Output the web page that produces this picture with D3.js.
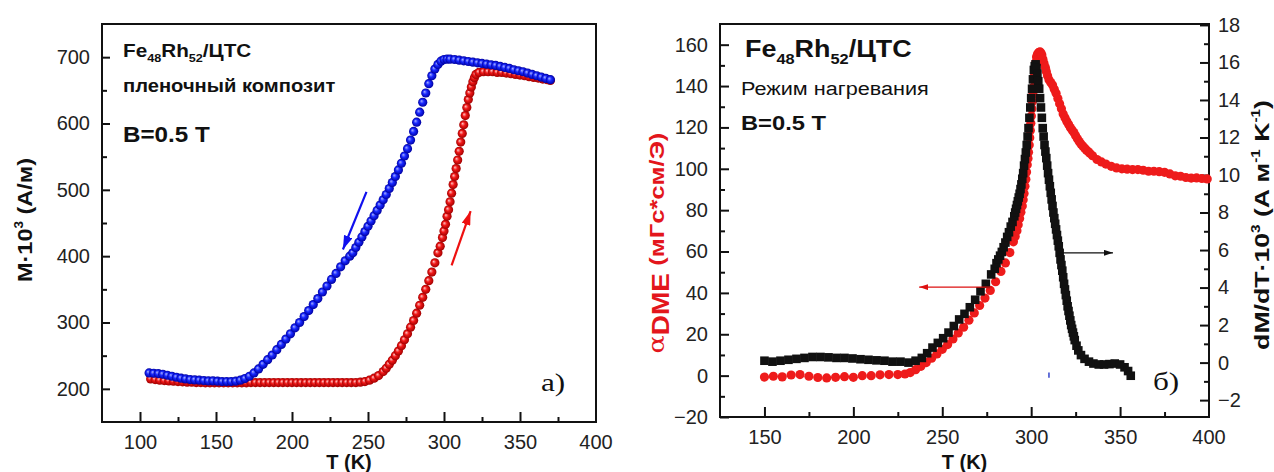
<!DOCTYPE html>
<html>
<head>
<meta charset="utf-8">
<script src="https://cdn.jsdelivr.net/npm/d3@7"></script>
<style>
  body { margin: 0; background: #fff; }
  svg text { font-family: "Liberation Sans", Arial, sans-serif; fill: #111; }
</style>
</head>
<body>
<div id="chart"></div>
<script>
// ---- панель а): M(T), нагрев (красный) и охлаждение (синий)
var heatT = [107,110,113,116,119,122,125,128,131,134,137,140,143,146,149,152,155,158,161,164,167,170,173,176,179,182,185,188,191,194,197,200,203,206,209,212,215,218,221,224,227,230,233,236,239,242,245,248,251,254,257,260,262,264,266,268,270,272,274,276,278,280,282,284,286,288,290,292,294,296,297.5,299,300,301,302,303,304,305,306,307,308,309,310,311,312,313,314,315,316,317,318,319,320,321,323,326,329,332,335,338,341,344,347,350,353,356,359,362,365,368,370];
var heatM = [215,214,213,212.5,212,211.5,211,210.5,210,210,209.5,209.5,209,209,209,209,209,209,209,209,209,209,209.5,209.5,209.5,209.5,209.5,209.5,209.5,209.5,209.5,209.5,209.5,209.5,209.5,209.5,209.5,209.5,209.5,209.5,209.5,209.5,209.5,209.5,209.5,209.5,210,211,213,216,220,226,231,237,243,250,257,265,274,283,293,303,314,326,338,350,363,376,390,405,415,428,438,448,460,470,482,495,508,520,532,545,558,572,585,598,612,624,636,646,655,663,669,674,677,678,678,678,677,677,676,675,674,673,672,670.5,669.5,668.5,667,666,665];
var coolT = [106,109,112,115,118,121,124,127,130,133,136,139,142,145,148,151,154,157,160,163,166,169,172,175,178,181,184,187,190,193,196,199,202,205,208,211,214,217,220,223,226,229,232,235,238,240,242,244,246,248,250,252,254,256,258,260,262,264,266,268,270,272,274,276,278,280,282,284,286,288,290,292,294,296,298,300,302,304,307,310,313,316,319,322,325,328,331,334,337,340,343,346,349,352,355,358,361,364,367,370];
var coolM = [224,223.5,223,222,220.5,219,217.5,216,215,214,213.5,213,212.5,212,212,211.5,211,211,211,211.5,213,215.5,219,224,230,237,244,251,259,267,275,283,292,300,309,318,327,336,346,355,365,374,384,393,400,405,413,421,429,437,445,453,461,469,477,485,493,502,511,520,530,540,551,562,575,588,602,617,632,646,660,672,682,689,694,696.5,697,697,696.5,695.5,694.5,693.5,692.5,691.5,690.5,689.5,688.5,687.5,686,684.5,683,681,679.5,678,676,674,672,670,668,666];
var xTicksA = [100,150,200,250,300,350,400];
var yTicksA = [200,300,400,500,600,700];

// ---- панель б): α_DME (красный, левая ось) и dM/dT (чёрный, правая ось)
var dmeT = [150,155,160,165,170,175,180,185,190,195,200,205,210,215,220,225,229,232,235,238,241,244,247,250,253,256,259,262,265,268,271,274,277,280,283,285.5,288,290,291,292,292.7,293.5,294.2,295,295.5,296,296.5,297,297.4,297.8,298.2,298.5,298.9,299.2,299.5,299.8,300.1,300.4,300.7,301,301.3,301.6,301.9,302.2,302.6,303,303.5,304,304.5,305,305.5,306,306.6,307.2,308,308.5,309.2,310,311,312,313,314,315,316,317,318,319,320,321,322,323,324,325,326,327,328,329,330,331,332,333,334.5,337,339.5,342,345,348,351,354,357,360,363,366,369,372,375,378,381,384,387,390,393,396,399];
var dmeA = [-0.7,-0.3,-0.6,0.3,0.5,-0.3,-0.9,-1.1,-0.8,-0.5,-0.8,0,0,0.4,0.5,0.5,0.8,1.5,2.9,4.5,6.3,8.4,10.5,12.7,15,17.7,20.6,23.4,26.8,30.3,33.9,37.5,41.2,45.4,50.4,54.5,59.5,64.7,67.3,70,73,76,79,82,85,88,91.5,95,98.5,102,105,108,111.5,115,118.5,122,125.5,129,132.5,136,139.5,143,146,149,151.5,154,155.3,156,156.3,156.5,156,155,153,151,149,147,145,143,141.7,140.5,138.5,136.5,134,131.5,129,126.5,124.7,123,121.5,120,118.7,117.5,116,114.5,113.2,112,111,110,109.1,108.3,107.5,106.3,104.5,103.3,102.3,101.2,100.4,100,99.8,99.6,99.6,99.3,98.8,98.8,98.6,98.3,97.5,96.6,96.4,95.8,95.5,95.6,95.3,95.1];
var derT = [150,154.5,159,163.5,168,172.5,177,181.5,186,190.5,195,199.5,204,208.5,213,217.5,222,226.5,231,235,238.5,241.5,244.5,247.5,250.5,253.5,256.5,259.5,262.5,265.5,268.5,271.5,274.5,277.5,279.5,280.5,281.5,282.5,283.5,284.5,285.5,286.5,287.5,288.5,289.5,290.5,291,291.5,292,292.5,293,293.5,294,294.5,295,295.5,296,296.5,297,297.5,298,298.5,299,299.5,300,300.5,301,301.5,302,302.5,303,303.5,304,304.5,305,305.5,306,306.5,307,307.5,308,308.5,309,309.5,310,310.5,311,311.5,312,312.5,313,313.5,314,314.5,315,315.5,316,316.5,317,317.5,318,318.5,319,319.5,320,320.5,321,321.5,322,322.5,323,323.5,324,324.5,325.5,326.5,328,330,332.5,335,338,341,344,347,350,352.5,354.5,356];
var derV = [0.1,0.05,0.1,0.15,0.2,0.25,0.3,0.3,0.28,0.25,0.25,0.22,0.18,0.15,0.12,0.1,0.05,0.05,0,0.1,0.25,0.5,0.8,1.05,1.3,1.6,1.95,2.3,2.6,2.95,3.35,3.8,4.2,4.7,5.0,5.3,5.5,5.7,5.9,6.15,6.4,6.7,6.95,7.25,7.5,7.8,8.0,8.2,8.4,8.6,8.8,9.0,9.25,9.5,9.8,10.1,10.5,10.85,11.2,11.6,12.05,12.5,13.05,13.6,14.1,14.6,15.1,15.6,15.8,15.9,15.7,15.4,15.0,14.6,14.1,13.6,13.05,12.5,12.05,11.6,11.25,10.9,10.5,10.1,9.75,9.4,9.05,8.7,8.35,8.0,7.7,7.4,7.1,6.8,6.5,6.2,5.85,5.5,5.2,4.9,4.55,4.2,3.9,3.6,3.3,3.0,2.75,2.5,2.25,2.0,1.8,1.6,1.4,1.2,0.9,0.65,0.4,0.2,0.05,-0.05,-0.1,-0.1,-0.08,-0.05,-0.1,-0.25,-0.45,-0.7];
var xTicksB = [150,200,250,300,350,400];
var yTicksB = [-20,0,20,40,60,80,100,120,140,160];
var y2TicksB = [-2,0,2,4,6,8,10,12,14,16,18];

var W = 1274, H = 472;
var svg = d3.select("#chart").append("svg").attr("width", W).attr("height", H);
svg.append("rect").attr("width", W).attr("height", H).attr("fill", "#fff");

var defs = svg.append("defs");
function sphere(id, c0, c1, c2) {
  var g = defs.append("radialGradient").attr("id", id)
    .attr("cx", "50%").attr("cy", "50%").attr("r", "50%").attr("fx", "35%").attr("fy", "35%");
  g.append("stop").attr("offset", "0%").attr("stop-color", c0);
  g.append("stop").attr("offset", "45%").attr("stop-color", c1);
  g.append("stop").attr("offset", "100%").attr("stop-color", c2);
}
sphere("gBlue", "#a8b0ff", "#1828ff", "#0000a0");
sphere("gRed", "#ffc8c8", "#f01818", "#a00000");

function arrowHead(id, color, len, wid) {
  defs.append("marker").attr("id", id)
    .attr("markerUnits", "userSpaceOnUse")
    .attr("viewBox", "0 0 " + len + " " + wid)
    .attr("refX", len).attr("refY", wid / 2)
    .attr("markerWidth", len).attr("markerHeight", wid)
    .attr("orient", "auto")
    .append("path").attr("d", "M0,0L" + len + "," + (wid / 2) + "L0," + wid + "Z").attr("fill", color);
}
arrowHead("ahBlue", "#1010ee", 14, 9);
arrowHead("ahRed", "#ee1010", 14, 9);
arrowHead("ahRedThin", "#dd1010", 9, 6);
arrowHead("ahBlack", "#111", 9, 6);

// текст с верхними / нижними индексами
function rich(g, parts, fs) {
  var t = g.append("text").attr("font-size", fs);
  var shift = 0;
  parts.forEach(function(p) {
    var target = p.sup ? -fs * 0.42 : (p.sub ? fs * (p.off || 0.3) : 0);
    var ts = t.append("tspan").attr("dy", target - shift).text(p.t);
    if (p.fs) ts.attr("font-size", p.fs);
    if (p.fill) ts.style("fill", p.fill);
    if (p.weight) ts.attr("font-weight", p.weight);
    if (p.family) ts.style("font-family", p.family);
    shift = target;
  });
  return t;
}

function frame(g, x, y) {
  g.append("rect")
    .attr("x", x.range()[0]).attr("y", y.range()[1])
    .attr("width", x.range()[1] - x.range()[0])
    .attr("height", y.range()[0] - y.range()[1])
    .attr("fill", "none").attr("stroke", "#111").attr("stroke-width", 2);
}

function styleAxis(a) {
  a.select(".domain").remove();
  a.selectAll(".tick line").attr("stroke", "#111").attr("stroke-width", 2);
  a.selectAll(".tick text").attr("font-size", 20).style("fill", "#222");
}

// ======================= панель а =======================
var xA = d3.scaleLinear().domain([75, 400]).range([102, 596]);
var yA = d3.scaleLinear().domain([150, 750]).range([422, 24]);
var gA = svg.append("g");

var axA = gA.append("g").attr("transform", "translate(0," + yA.range()[0] + ")")
  .call(d3.axisBottom(xA).tickValues(xTicksA.slice(0, -1)).tickSize(-10).tickPadding(13).tickFormat(d3.format("d")));
styleAxis(axA);
gA.append("text").attr("x", xA(400)).attr("y", yA.range()[0] + 13).attr("dy", "0.71em")
  .attr("text-anchor", "middle").attr("font-size", 20).style("fill", "#222").text("400");
var axAm = gA.append("g").attr("transform", "translate(0," + yA.range()[0] + ")")
  .call(d3.axisBottom(xA).tickValues([125, 175, 225, 275, 325, 375]).tickSize(-5).tickFormat(""));
styleAxis(axAm);

var ayA = gA.append("g").attr("transform", "translate(" + xA.range()[0] + ",0)")
  .call(d3.axisLeft(yA).tickValues(yTicksA).tickSize(-8).tickPadding(12));
styleAxis(ayA);
var ayAm = gA.append("g").attr("transform", "translate(" + xA.range()[0] + ",0)")
  .call(d3.axisLeft(yA).tickValues([250, 350, 450, 550, 650]).tickSize(-5).tickFormat(""));
styleAxis(ayAm);

frame(gA, xA, yA);

gA.append("g").selectAll("circle").data(heatT).enter().append("circle")
  .attr("cx", function(d) { return xA(d); })
  .attr("cy", function(d, i) { return yA(heatM[i]); })
  .attr("r", 4.6).attr("fill", "url(#gRed)");
gA.append("g").selectAll("circle").data(coolT).enter().append("circle")
  .attr("cx", function(d) { return xA(d); })
  .attr("cy", function(d, i) { return yA(coolM[i]); })
  .attr("r", 4.6).attr("fill", "url(#gBlue)");

// стрелки направления
gA.append("line").attr("x1", xA(249)).attr("y1", yA(497)).attr("x2", xA(233.5)).attr("y2", yA(410))
  .attr("stroke", "#1010ee").attr("stroke-width", 2.2).attr("marker-end", "url(#ahBlue)");
gA.append("line").attr("x1", xA(305)).attr("y1", yA(386)).attr("x2", xA(317.5)).attr("y2", yA(468))
  .attr("stroke", "#ee1010").attr("stroke-width", 2.2).attr("marker-end", "url(#ahRed)");

// подписи
gA.append("text").attr("x", xA(237.5)).attr("y", 469).attr("text-anchor", "middle")
  .attr("font-size", 20).attr("font-weight", "bold").text("T (K)");
rich(gA.append("g").attr("transform", "translate(32,220) rotate(-90) scale(1.12,1)"),
  [{t: "M·10"}, {t: "3", sup: true, fs: 12}, {t: " (A/м)"}], 21)
  .attr("text-anchor", "middle").attr("font-weight", "bold");

rich(gA.append("g").attr("transform", "translate(123,57) scale(1.15,1)"),
  [{t: "Fe"}, {t: "48", sub: true, fs: 11}, {t: "Rh"}, {t: "52", sub: true, fs: 11}, {t: "/ЦТС"}], 18)
  .attr("font-weight", "bold");
gA.append("text").attr("transform", "translate(123,92) scale(1.09,1)").attr("font-size", 18.5)
  .attr("font-weight", "bold").text("пленочный композит");
gA.append("text").attr("transform", "translate(123,142) scale(1.1,1)").attr("font-size", 22)
  .attr("font-weight", "bold").text("B=0.5 T");
gA.append("text").attr("transform", "translate(541,391) scale(1.2,1)").attr("font-size", 26)
  .style("font-family", "'Liberation Serif', 'Times New Roman', serif").text("a)");

// ======================= панель б =======================
var xB = d3.scaleLinear().domain([125, 400]).range([720, 1209]);
var yB = d3.scaleLinear().domain([-20, 170]).range([417, 24]);
var y2B = d3.scaleLinear().domain([-2.9, 18.05]).range([417, 24]);
var gB = svg.append("g");

var axB = gB.append("g").attr("transform", "translate(0," + yB.range()[0] + ")")
  .call(d3.axisBottom(xB).tickValues(xTicksB.slice(0, -1)).tickSize(-10).tickPadding(13).tickFormat(d3.format("d")));
styleAxis(axB);
gB.append("text").attr("x", xB(400)).attr("y", yB.range()[0] + 13).attr("dy", "0.71em")
  .attr("text-anchor", "middle").attr("font-size", 20).style("fill", "#222").text("400");
var axBm = gB.append("g").attr("transform", "translate(0," + yB.range()[0] + ")")
  .call(d3.axisBottom(xB).tickValues([175, 225, 275, 325, 375]).tickSize(-5).tickFormat(""));
styleAxis(axBm);

var ayB = gB.append("g").attr("transform", "translate(" + xB.range()[0] + ",0)")
  .call(d3.axisLeft(yB).tickValues(yTicksB).tickSize(-9).tickPadding(12));
styleAxis(ayB);
var ayBm = gB.append("g").attr("transform", "translate(" + xB.range()[0] + ",0)")
  .call(d3.axisLeft(yB).tickValues(d3.range(-10, 170, 20)).tickSize(-5).tickFormat(""));
styleAxis(ayBm);

var ay2B = gB.append("g").attr("transform", "translate(" + xB.range()[1] + ",0)")
  .call(d3.axisRight(y2B).tickValues(y2TicksB).tickSize(-9).tickPadding(9));
styleAxis(ay2B);
var ay2Bm = gB.append("g").attr("transform", "translate(" + xB.range()[1] + ",0)")
  .call(d3.axisRight(y2B).tickValues(d3.range(-1, 18, 2)).tickSize(-5).tickFormat(""));
styleAxis(ay2Bm);

frame(gB, xB, yB);

gB.append("g").selectAll("circle").data(dmeT).enter().append("circle")
  .attr("cx", function(d) { return xB(d); })
  .attr("cy", function(d, i) { return yB(dmeA[i]); })
  .attr("r", 4.6).attr("fill", "#ee1b1b");
gB.append("g").selectAll("rect").data(derT).enter().append("rect")
  .attr("x", function(d) { return xB(d) - 4.3; })
  .attr("y", function(d, i) { return y2B(derV[i]) - 4.3; })
  .attr("width", 8.6).attr("height", 8.6).attr("fill", "#111");

// маленькая синяя метка
gB.append("line").attr("x1", xB(310)).attr("x2", xB(310)).attr("y1", yB(1.5)).attr("y2", yB(-1))
  .attr("stroke", "#3344cc").attr("stroke-width", 1.5);

// стрелки к осям
gB.append("line").attr("x1", xB(278)).attr("y1", yB(42.8)).attr("x2", xB(237)).attr("y2", yB(42.8))
  .attr("stroke", "#dd1010").attr("stroke-width", 1.2).attr("marker-end", "url(#ahRedThin)");
gB.append("line").attr("x1", xB(316)).attr("y1", y2B(5.85)).attr("x2", xB(346)).attr("y2", y2B(5.85))
  .attr("stroke", "#111").attr("stroke-width", 1.2).attr("marker-end", "url(#ahBlack)");

// подписи
gB.append("text").attr("x", d3.mean(xB.range())).attr("y", 469).attr("text-anchor", "middle")
  .attr("font-size", 20).attr("font-weight", "bold").text("T (K)");

rich(gB.append("g").attr("transform", "translate(664,243) rotate(-90) scale(1.22,1)"),
  [{t: "α", weight: "normal", family: "'DejaVu Serif', serif", fs: 22},
   {t: "DME", sub: true, off: 0.25, fs: 23},
   {t: " (мГс*см/Э)"}], 21)
  .attr("text-anchor", "middle").attr("font-weight", "bold").style("fill", "#e3161c");

rich(gB.append("g").attr("transform", "translate(1269,225) rotate(-90) scale(1.27,1)"),
  [{t: "dM/dT·10"}, {t: "3", sup: true, fs: 12}, {t: " (A м"}, {t: "-1", sup: true, fs: 12},
   {t: " K"}, {t: "-1", sup: true, fs: 12}, {t: ")"}], 21)
  .attr("text-anchor", "middle").attr("font-weight", "bold");

rich(gB.append("g").attr("transform", "translate(745,57) scale(1.17,1)"),
  [{t: "Fe"}, {t: "48", sub: true, fs: 14}, {t: "Rh"}, {t: "52", sub: true, fs: 14}, {t: "/ЦТС"}], 23)
  .attr("font-weight", "bold");
gB.append("text").attr("transform", "translate(741,95) scale(1.14,1)").attr("font-size", 19)
  .text("Режим нагревания");
gB.append("text").attr("transform", "translate(741,130) scale(1.13,1)").attr("font-size", 21)
  .attr("font-weight", "bold").text("B=0.5 T");
gB.append("text").attr("transform", "translate(1153,390) scale(1.2,1)").attr("font-size", 26)
  .style("font-family", "'Liberation Serif', 'Times New Roman', serif").text("б)");
</script>
</body>
</html>
